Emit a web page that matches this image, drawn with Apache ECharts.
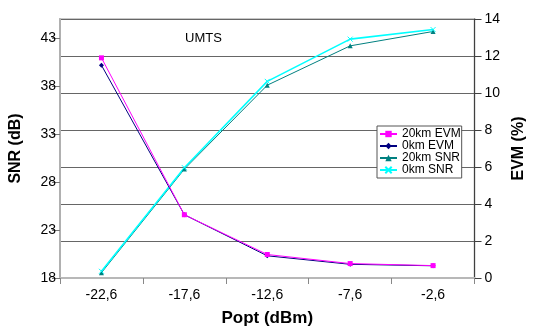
<!DOCTYPE html>
<html>
<head>
<meta charset="utf-8">
<script src="https://cdn.jsdelivr.net/npm/echarts@6/dist/echarts.min.js"></script>
<style>
html,body{margin:0;padding:0;background:#fff;}
#chart{width:535px;height:332px;}
</style>
</head>
<body>
<div id="chart"></div>
<script>
var categories = ['-22,6', '-17,6', '-12,6', '-7,6', '-2,6'];
var evm20km = [11.9, 3.42, 1.27, 0.78, 0.67];
var evm0km = [11.5, 3.42, 1.2, 0.74, 0.66];
var snr20km = [18.55, 29.35, 38.1, 42.2, 43.7];
var snr0km = [18.7, 29.5, 38.5, 42.9, 43.9];
var seriesNames = ['20km EVM', '0km EVM', '20km SNR', '0km SNR'];
var titleText = 'UMTS';

var FONT = 'Liberation Sans, Arial, sans-serif';
var crossPath = 'path://M0,0 L10,10 M10,0 L0,10';

var chart = echarts.init(document.getElementById('chart'), null, {renderer: 'canvas'});
chart.setOption({
  animation: false,
  backgroundColor: '#ffffff',
  textStyle: {fontFamily: FONT},
  grid: {left: 59, right: 44, top: 19, bottom: 48, show: true, borderColor: '#c8c8c8', borderWidth: 2, backgroundColor: 'transparent'},
  graphic: [{
    type: 'text', left: 185, top: 32,
    style: {text: titleText, font: '13px ' + FONT, fill: '#000'}
  }],
  legend: {
    orient: 'vertical', left: 377, top: 126,
    data: seriesNames,
    backgroundColor: '#fff', borderColor: '#555', borderWidth: 1,
    padding: [2, 1, 2, 2], itemGap: 0, itemWidth: 17, itemHeight: 8,
    textStyle: {fontFamily: FONT, fontSize: 12, color: '#000', lineHeight: 11.5}
  },
  xAxis: {
    type: 'category', data: categories, boundaryGap: true,
    axisLine: {show: true, lineStyle: {color: '#b8b8b8', width: 2}},
    axisTick: {show: true, length: 6, lineStyle: {color: '#888'}},
    axisLabel: {fontFamily: FONT, fontSize: 14, color: '#000', margin: 10},
    splitLine: {show: false},
    name: 'Popt (dBm)', nameLocation: 'middle', nameGap: 32,
    nameTextStyle: {fontFamily: FONT, fontSize: 17, fontWeight: 'bold', color: '#000'}
  },
  yAxis: [{
    type: 'value', position: 'left', min: 18, max: 45, interval: 5,
    axisLine: {show: true, lineStyle: {color: '#b0b0b0', width: 2}},
    axisTick: {show: true, length: 8, lineStyle: {color: '#777'}},
    axisLabel: {fontFamily: FONT, fontSize: 14, color: '#000', margin: 4, showMaxLabel: false},
    splitLine: {show: false},
    name: 'SNR (dB)', nameLocation: 'middle', nameRotate: 90, nameGap: 36,
    nameTextStyle: {fontFamily: FONT, fontSize: 16, fontWeight: 'bold', color: '#000'}
  }, {
    type: 'value', position: 'right', min: 0, max: 14, interval: 2,
    axisLine: {show: true, lineStyle: {color: '#404040', width: 1}},
    axisTick: {show: true, length: 7, lineStyle: {color: '#404040'}},
    axisLabel: {fontFamily: FONT, fontSize: 14, color: '#000', margin: 10},
    splitLine: {show: true, lineStyle: {color: '#666666', width: 1}},
    name: 'EVM (%)', nameLocation: 'middle', nameRotate: 90, nameGap: 30,
    nameTextStyle: {fontFamily: FONT, fontSize: 16, fontWeight: 'bold', color: '#000'}
  }],
  series: [{
    name: seriesNames[2], type: 'line', yAxisIndex: 0, data: snr20km,
    symbol: 'triangle', symbolSize: 5,
    lineStyle: {color: '#008080', width: 1}, itemStyle: {color: '#008080'}
  }, {
    name: seriesNames[3], type: 'line', yAxisIndex: 0, data: snr0km,
    symbol: crossPath, symbolSize: 5,
    lineStyle: {color: '#00ffff', width: 1.6}, itemStyle: {color: '#00ffff', borderColor: '#00ffff', borderWidth: 1}
  }, {
    name: seriesNames[1], type: 'line', yAxisIndex: 1, data: evm0km,
    symbol: 'diamond', symbolSize: 5,
    lineStyle: {color: '#000080', width: 1}, itemStyle: {color: '#000080'}
  }, {
    name: seriesNames[0], type: 'line', yAxisIndex: 1, data: evm20km,
    symbol: 'rect', symbolSize: 5,
    lineStyle: {color: '#ff00ff', width: 1}, itemStyle: {color: '#ff00ff'}
  }]
});
</script>
</body>
</html>
